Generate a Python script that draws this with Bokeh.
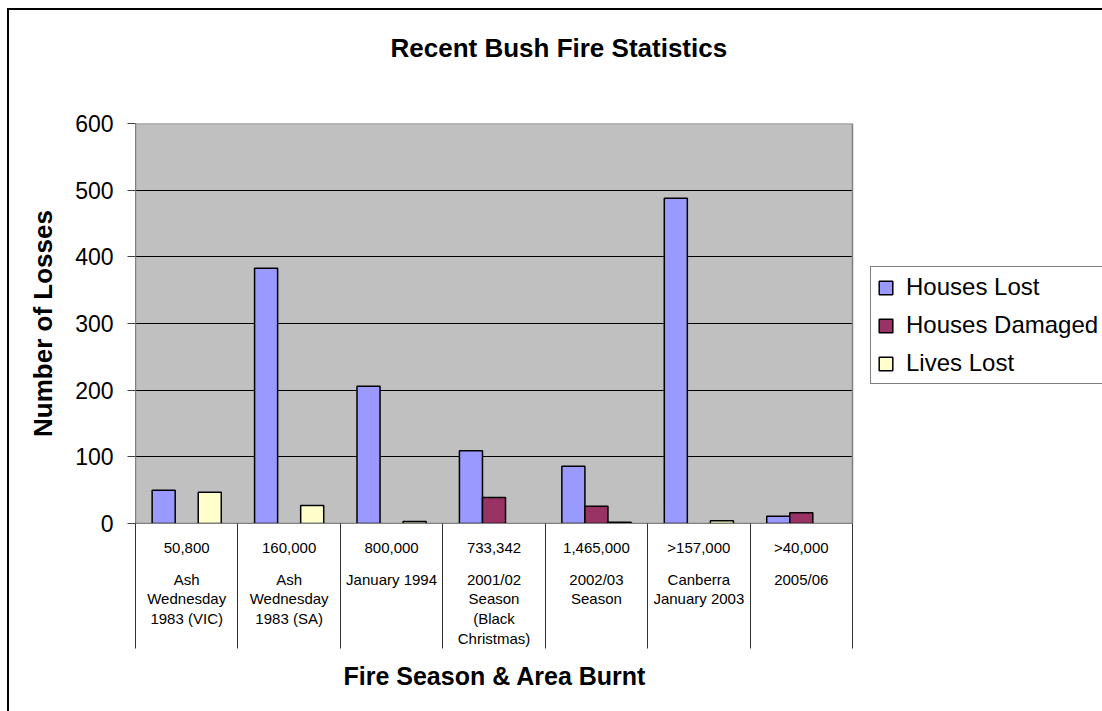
from bokeh.plotting import figure
from bokeh.models import (Range1d, FixedTicker, LinearAxis, Legend, LegendItem,
                          Title, ColumnDataSource)
from bokeh.transform import dodge
from bokeh.embed import file_html
from bokeh.resources import INLINE

nan = float("nan")

# ---- data ----
areas = ["50,800", "160,000", "800,000", "733,342", "1,465,000", ">157,000", ">40,000"]
names = ["Ash\nWednesday\n1983 (VIC)", "Ash\nWednesday\n1983 (SA)", "January 1994",
         "2001/02\nSeason\n(Black\nChristmas)", "2002/03\nSeason",
         "Canberra\nJanuary 2003", "2005/06"]
houses_lost = [50, 383, 206, 109, 86, 488, 11]
houses_damaged = [nan, nan, nan, 39, 26, nan, 16]
lives_lost = [47, 27, 3, nan, 2, 4, nan]
series_names = ["Houses Lost", "Houses Damaged", "Lives Lost"]
series_colors = ["#9999FF", "#993366", "#FFFFCC"]
y_ticks = [0, 100, 200, 300, 400, 500, 600]

FONT = "Liberation Sans"
n = len(areas)
xc = [i + 0.5 for i in range(n)]

# layout: plot area spans x 135..852 px; the frame runs on to the right edge (1102 px)
# so that the legend beside the plot area is drawn inside the frame
W, H = 1102, 711
AREA_L, AREA_R = 135, 852
x_end = n * (W - AREA_L) / (AREA_R - AREA_L)

src = ColumnDataSource(dict(x=xc, hl=houses_lost, hd=houses_damaged, ll=lives_lost))

p = figure(width=W, height=H, output_backend="svg", toolbar_location=None,
           x_range=Range1d(0, x_end), y_range=Range1d(0, 600),
           x_axis_location=None, y_axis_location=None,
           min_border_left=AREA_L, min_border_right=0, min_border_top=123,
           min_border_bottom=188)
# outer chart-area frame (left and top edges visible)
p.styles = {"background-color": "white",
            "box-shadow": "inset 7px 8px 0 0 white, inset 9px 10px 0 0 black"}
p.background_fill_color = None
p.border_fill_color = None
p.outline_line_color = None

y0, y1 = p.y_range.start, p.y_range.end
# grey plot area spanning the category range
p.quad(left=[0], right=[n], bottom=[y0], top=[y1],
       fill_color="#C0C0C0", line_color=None, level="image")
# white cover right of the plot area (hides grid lines there)
p.quad(left=[n], right=[x_end], bottom=[y0], top=[y1],
       fill_color="white", line_color=None)
# plot area border
p.quad(left=[0], right=[n], bottom=[y0], top=[y1],
       fill_color=None, line_color="#808080", line_width=1.5)

# y axis
yax = LinearAxis(ticker=FixedTicker(ticks=y_ticks, minor_ticks=[]))
yax.axis_line_color = "#808080"
yax.major_tick_line_color = "#404040"
yax.major_tick_in = 0
yax.major_tick_out = 8
yax.minor_tick_line_color = None
yax.major_label_text_font = FONT
yax.major_label_text_font_size = "23px"
yax.major_label_text_color = "black"
yax.major_label_standoff = 14
yax.axis_label = "Number of Losses"
yax.axis_label_text_font = FONT
yax.axis_label_text_font_size = "26px"
yax.axis_label_text_font_style = "bold"
yax.axis_label_text_color = "black"
yax.axis_label_standoff = 14
p.add_layout(yax, "left")

# x axis 1: area labels + category separators
xax1 = LinearAxis(ticker=FixedTicker(ticks=xc, minor_ticks=list(range(n + 1))),
                  bounds=(0, n))
xax1.major_label_overrides = {x: a for x, a in zip(xc, areas)}
xax1.axis_line_color = "#808080"
xax1.major_tick_line_color = None
xax1.major_tick_in = 0
xax1.major_tick_out = 0
xax1.minor_tick_line_color = "#303030"
xax1.minor_tick_in = 0
xax1.minor_tick_out = 125
xax1.major_label_text_font = FONT
xax1.major_label_text_font_size = "15px"
xax1.major_label_text_color = "black"
xax1.major_label_standoff = -110
p.add_layout(xax1, "below")

# x axis 2: names
xax2 = LinearAxis(ticker=FixedTicker(ticks=xc, minor_ticks=[]), bounds=(0, n))
xax2.major_label_overrides = {x: s for x, s in zip(xc, names)}
xax2.axis_line_color = None
xax2.major_tick_line_color = None
xax2.minor_tick_line_color = None
xax2.major_tick_in = 0
xax2.major_tick_out = 0
xax2.major_label_text_font = FONT
xax2.major_label_text_font_size = "15px"
xax2.major_label_text_line_height = 1.17
xax2.major_label_text_color = "black"
xax2.major_label_standoff = 12
p.add_layout(xax2, "below")

# x axis title, centred under the plot area
xtitle = Title(text="Fire Season & Area Burnt", align="left", offset=208,
               text_font=FONT, text_font_size="25px", text_font_style="bold",
               text_color="black", standoff=19)
p.add_layout(xtitle, "below")

p.xgrid.visible = False
p.ygrid.ticker = FixedTicker(ticks=y_ticks[1:-1])
p.ygrid.grid_line_color = "black"
p.ygrid.grid_line_width = 1

bw = 0.225
renderers = []
for off, col, color in zip([-bw, 0, bw], ["hl", "hd", "ll"], series_colors):
    r = p.vbar(x=dodge("x", off, range=p.x_range), top=col, bottom=0, width=bw,
               source=src, fill_color=color, line_color="black", line_width=1.5)
    renderers.append(r)

legend = Legend(items=[LegendItem(label=s, renderers=[r])
                       for s, r in zip(series_names, renderers)],
                location=(870 - AREA_L, 139))
legend.glyph_width = 17
legend.glyph_height = 17
legend.label_standoff = 12
legend.label_text_font = FONT
legend.label_text_font_size = "24px"
legend.label_text_color = "black"
legend.label_height = 28
legend.spacing = 10
legend.padding = 6
legend.margin = 0
legend.border_line_color = "black"
legend.border_line_width = 1
legend.background_fill_color = "white"
p.add_layout(legend, "center")

title = Title(text="Recent Bush Fire Statistics\n ", align="left", offset=255,
              text_font=FONT, text_font_size="26px", text_font_style="bold",
              text_color="black", text_line_height=1.6, standoff=26)
p.add_layout(title, "above")

open("out.html", "w").write(file_html(p, INLINE))
